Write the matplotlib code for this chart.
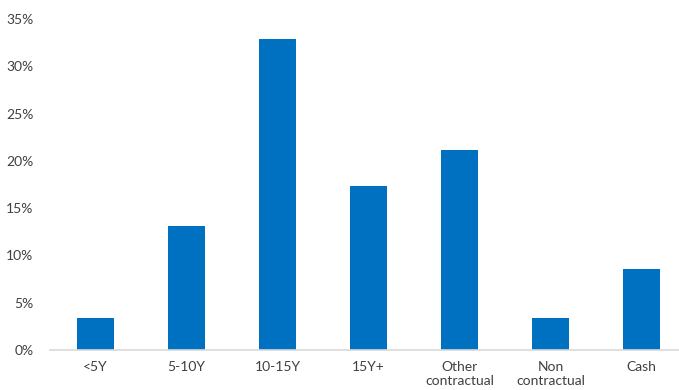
import matplotlib.pyplot as plt

categories = ["<5Y", "5-10Y", "10-15Y", "15Y+", "Other\ncontractual", "Non\ncontractual", "Cash"]
values = [3.4, 13.1, 32.9, 17.3, 21.1, 3.4, 8.6]
yticks = [0, 5, 10, 15, 20, 25, 30, 35]

plt.rcParams['font.family'] = ['Lato', 'DejaVu Sans']

fig = plt.figure(figsize=(6.79, 3.90), dpi=100)
ax = fig.add_axes([50 / 679, 40 / 390, 637 / 679, 331 / 390])

x = range(len(categories))
ax.bar(x, values, width=0.4, color='#0070C0')

ax.set_xlim(-0.5, len(categories) - 0.5)
ax.set_ylim(0, 35)
ax.set_yticks(yticks)
ax.set_yticklabels([f"{v}%" for v in yticks])
ax.set_xticks(list(x))
ax.set_xticklabels(categories, linespacing=1.15)

for s in ['top', 'right', 'left']:
    ax.spines[s].set_visible(False)
ax.spines['bottom'].set_color('#D9D9D9')
ax.spines['bottom'].set_linewidth(1.2)
ax.tick_params(axis='both', length=0, labelsize=10, colors='#404040')
ax.tick_params(axis='y', pad=12)
ax.tick_params(axis='x', pad=8)

fig.savefig('out.png', dpi=100)
